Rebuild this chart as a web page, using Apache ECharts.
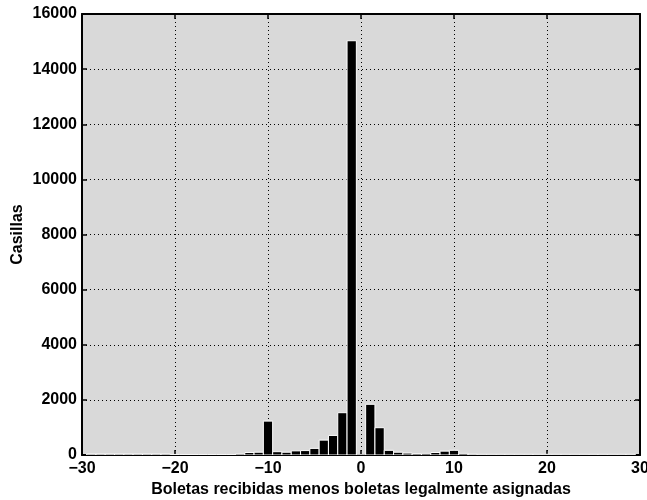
<!DOCTYPE html>
<html>
<head>
<meta charset="utf-8">
<script src="https://cdn.jsdelivr.net/npm/echarts@6/dist/echarts.min.js"></script>
<style>html,body{margin:0;padding:0;background:#fff;}#c{width:647px;height:500px;}</style>
</head>
<body>
<div id="c"></div>
<script>
// Bin centers (difference values)
const bins = [-29,-28,-27,-26,-25,-24,-23,-22,-21,-20,-19,-18,-17,-16,-15,-14,-13,-12,-11,-10,-9,-8,-7,-6,-5,-4,-3,-2,-1,0,1,2,3,4,5,6,7,8,9,10,11,12,13,14,15,16,17,18,19,20,21,22,23,24,25,26,27,28,29];
// Counts (Casillas) per bin
const counts = [35,35,35,35,35,35,35,35,35,20,20,20,20,20,20,20,40,90,100,1230,120,100,150,160,240,540,710,1535,15030,0,1840,990,170,100,70,50,60,90,140,170,60,30,25,25,25,25,25,25,25,25,25,25,25,25,25,25,25,25,25];
const xTicks = [-30,-20,-10,0,10,20,30];
const yTicks = [0,2000,4000,6000,8000,10000,12000,14000,16000];

const chart = echarts.init(document.getElementById('c'), null, {renderer:'canvas'});
const font = 'Liberation Sans, Arial, Helvetica, sans-serif';
const grid = {left:82, right:7, top:14, bottom:45, show:true, backgroundColor:'#d9d9d9', borderWidth:0,
              containLabel:false, outerBoundsMode:'none'};
const axLine = {show:true, onZero:false, lineStyle:{color:'#000', width:2}};
const tick = {show:true, inside:true, length:5, lineStyle:{color:'#000', width:1.5}};
const split = {show:true, lineStyle:{color:'#000', type:[1,3], width:1}};
const fmtX = v => (v < 0 ? '\u2212' + Math.abs(v) : String(v));
const fmtY = v => String(v);

chart.setOption({
  animation:false,
  grid: grid,
  xAxis: [
    {type:'value', min:xTicks[0], max:xTicks[xTicks.length-1], interval:10, position:'bottom',
     axisLine:axLine, axisTick:tick, splitLine:split,
     axisLabel:{formatter:fmtX, color:'#000', fontFamily:font, fontWeight:'bold', fontSize:16, margin:6},
     name:'Boletas recibidas menos boletas legalmente asignadas', nameLocation:'middle', nameGap:27,
     nameMoveOverlap:false,
     nameTextStyle:{color:'#000', fontFamily:font, fontWeight:'bold', fontSize:16}},
    {type:'value', min:xTicks[0], max:xTicks[xTicks.length-1], interval:10, position:'top',
     axisLine:axLine, axisTick:tick, splitLine:{show:false}, axisLabel:{show:false}}
  ],
  yAxis: [
    {type:'value', min:yTicks[0], max:yTicks[yTicks.length-1], interval:2000, position:'left',
     axisLine:axLine, axisTick:tick, splitLine:split,
     axisLabel:{formatter:fmtY, color:'#000', fontFamily:font, fontWeight:'bold', fontSize:16, margin:5},
     name:'Casillas', nameLocation:'middle', nameGap:56, nameMoveOverlap:false,
     nameTextStyle:{color:'#000', fontFamily:font, fontWeight:'bold', fontSize:16}},
    {type:'value', min:yTicks[0], max:yTicks[yTicks.length-1], interval:2000, position:'right',
     axisLine:axLine, axisTick:tick, splitLine:{show:false}, axisLabel:{show:false}}
  ],
  series: [{
    type:'custom',
    xAxisIndex:0, yAxisIndex:0,
    data: bins.map((b,i)=>[b, counts[i]]),
    clip:true,
    z:3,
    renderItem: function(params, api){
      const x = api.value(0), y = api.value(1);
      const p0 = api.coord([x-0.5, y]);
      const p1 = api.coord([x+0.5, 0]);
      return {
        type:'rect',
        shape:{x:p0[0], y:p0[1], width:p1[0]-p0[0], height:p1[1]-p0[1]},
        style:{fill:'#000', stroke:'#fff', lineWidth:1}
      };
    }
  }]
});
</script>
</body>
</html>
